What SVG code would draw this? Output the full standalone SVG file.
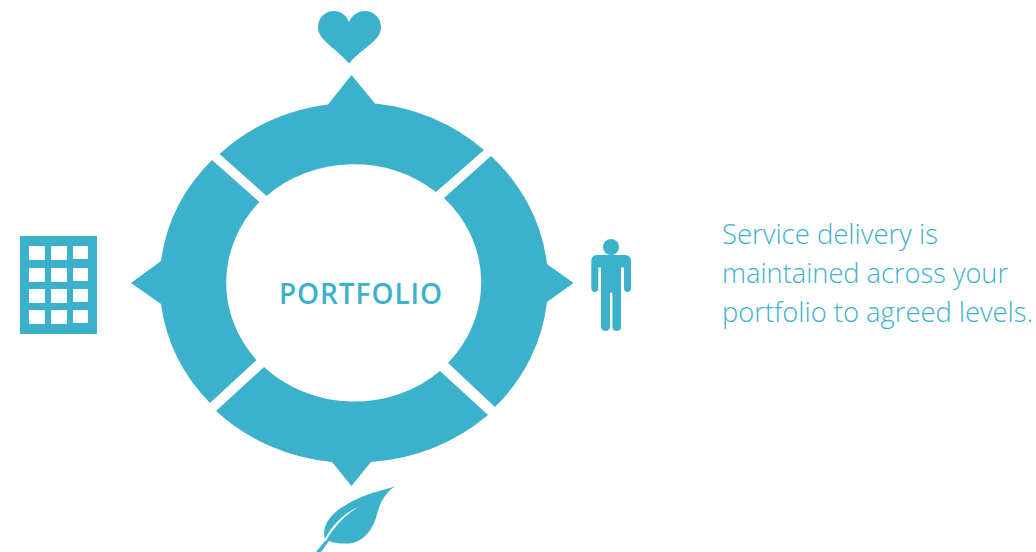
<svg xmlns="http://www.w3.org/2000/svg" width="1036" height="552" viewBox="0 0 1036 552">
<style>
.f{fill:#3cb1cc}
.w{fill:#fff}
.t{font-family:"Open Sans","Liberation Sans",sans-serif;font-weight:300;font-size:27px;fill:#3cb1cc}
.p{font-family:"Open Sans","Liberation Sans",sans-serif;font-weight:600;font-size:28px;fill:#3cb1cc}
</style>
<rect width="1036" height="552" fill="#fff"/>
<g id="ring" class="f">
<path id="seg-top" d="M219.500,154A193.500,180 0 0 1 328,104.500L351.500,75L375,103.500A193.500,180 0 0 1 484,150L436,192A128.500,120 0 0 0 266.500,196Z"/>
<path id="seg-right" d="M491,156A193.500,180 0 0 1 547,264L573.500,283L547,302A193.500,180 0 0 1 495,407L448,363A128.500,120 0 0 0 444,198Z"/>
<path id="seg-bottom" d="M488,415A193.500,180 0 0 1 371,462L351.500,486L332,462A193.500,180 0 0 1 216,411L264,367A128.500,120 0 0 0 440,371Z"/>
<path id="seg-left" d="M210,403A193.500,180 0 0 1 161,304L131,283L161,261A193.500,180 0 0 1 212,160L259.500,202A128.500,120 0 0 0 256.500,360Z"/>
</g>
<g id="center"><text class="p" x="279" y="304" textLength="163" lengthAdjust="spacing">PORTFOLIO</text></g>
<g id="heart"><path class="f" d="M349,63.500C343,56 332,48 325,41C320,36 318,32 318,27C318,17 326,11 334,11C341,11 346,15 349,22C352,15 358,11 365,11C374,11 381,18 381,27C381,32 379,36 374,41C366,48 355,56 349,63.500Z"/></g>
<g id="leaf"><path class="f" d="M395.500,486C385,490 372,492 357,499C340,507 325,517 324,533L325,541L316,552H321L329,541C336,544 347,544 353,543C364,540 372,530 376,518C379,506 383,494 395.500,486Z"/><path class="w" d="M358,507C344,513 331,526 324.500,540L326,541C333,528 345,515 358,507Z"/></g>
<g id="person" class="f"><circle cx="611" cy="247" r="8"/><path d="M597,255H625C629,255 631,258 631,261V288A3.500,4 0 0 1 624,288V267.500H621V327A4.300,4 0 0 1 612.400,327V292.700H610V327A4.500,4 0 0 1 601,327V267.500H598.300V288A3.500,4 0 0 1 591.300,288V261C591.300,258 593,255 597,255Z"/></g>
<g id="building"><rect class="f" x="20" y="236" width="77" height="98"/>
<g class="w"><rect x="29" y="246" width="16" height="14"/><rect x="51" y="246" width="16" height="14"/><rect x="73" y="246" width="15" height="13"/><rect x="29" y="268" width="16" height="14"/><rect x="51" y="268" width="16" height="14"/><rect x="73" y="268" width="15" height="13"/><rect x="29" y="289" width="16" height="14"/><rect x="51" y="289" width="16" height="14"/><rect x="73" y="289" width="15" height="13"/><rect x="29" y="310" width="16" height="14"/><rect x="51" y="310" width="16" height="14"/><rect x="73" y="310" width="15" height="13"/></g></g>
<g id="caption"><text class="t" x="722" y="244" textLength="216" lengthAdjust="spacingAndGlyphs">Service delivery is</text><text class="t" x="722" y="283" textLength="286" lengthAdjust="spacingAndGlyphs">maintained across your</text><text class="t" x="722" y="322" textLength="311" lengthAdjust="spacingAndGlyphs">portfolio to agreed levels.</text></g>
</svg>
